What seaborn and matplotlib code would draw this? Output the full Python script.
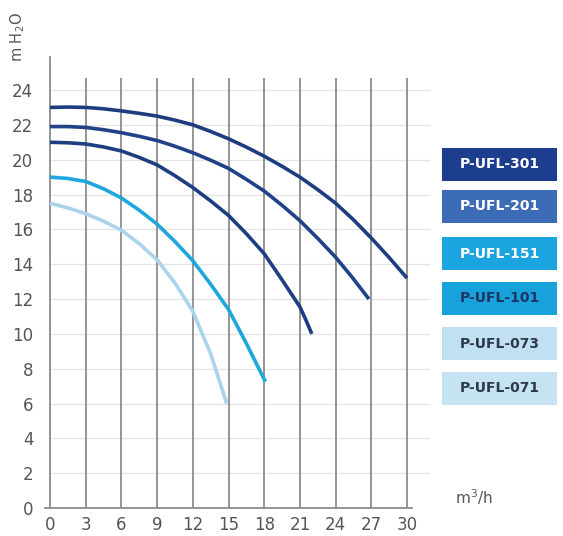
import numpy as np
import pandas as pd
import seaborn as sns
import matplotlib.pyplot as plt
from matplotlib.patches import Rectangle

# pump curves (flow m3/h, head m H2O)
flow_301 = [0, 1.5, 3, 4.5, 6, 7.5, 9, 10.5, 12, 13.5, 15, 16.5, 18, 19.5, 21, 22.5, 24, 25.5, 27, 28.5, 30]
head_301 = [23.0, 23.02, 23.0, 22.92, 22.8, 22.66, 22.5, 22.27, 22.0, 21.62, 21.2, 20.72, 20.2,
            19.62, 19.0, 18.28, 17.5, 16.55, 15.5, 14.38, 13.2]

flow_201 = [0, 1.5, 3, 4.5, 6, 7.5, 9, 10.5, 12, 13.5, 15, 16.5, 18, 19.5, 21, 22.5, 24, 25.4, 26.8]
head_201 = [21.9, 21.9, 21.85, 21.72, 21.55, 21.34, 21.1, 20.77, 20.4, 19.97, 19.5, 18.87, 18.2,
            17.38, 16.5, 15.48, 14.4, 13.24, 12.0]

flow_151 = [0, 1.5, 3, 4.5, 6, 7.5, 9, 10.5, 12, 13.5, 15, 16.5, 18, 19.5, 21, 21.5, 22.0]
head_151 = [21.0, 20.97, 20.9, 20.73, 20.5, 20.13, 19.7, 19.08, 18.4, 17.63, 16.8, 15.75, 14.6,
            13.1, 11.55, 10.8, 10.0]

flow_101 = [0, 1.5, 3, 4.5, 6, 7.5, 9, 10.5, 12, 13.5, 15, 16.5, 18.1]
head_101 = [19.0, 18.92, 18.75, 18.33, 17.8, 17.1, 16.3, 15.3, 14.2, 12.85, 11.4, 9.45, 7.25]

flow_073 = [0, 1.5, 3, 4.5, 6, 7.5, 9, 10.5, 12, 13.5, 14.85]
head_073 = [17.5, 17.23, 16.9, 16.47, 15.95, 15.18, 14.25, 12.92, 11.3, 8.85, 6.0]

curve_names = ["P-UFL-301", "P-UFL-201", "P-UFL-151", "P-UFL-101", "P-UFL-073"]
curve_colors = ["#1e3c80", "#1f4288", "#1d3f82", "#1ea6dd", "#a9d4ec"]

legend_labels = ["P-UFL-301", "P-UFL-201", "P-UFL-151", "P-UFL-101", "P-UFL-073", "P-UFL-071"]
legend_fills = ["#1d3d8f", "#3c6cb6", "#1aa5e0", "#17a2dc", "#c2e0f3", "#c6e3f4"]
legend_text = ["white", "white", "white", "#1d3566", "#2e3a4a", "#2e3a4a"]

x_ticks = [0, 3, 6, 9, 12, 15, 18, 21, 24, 27, 30]
y_ticks = [0, 2, 4, 6, 8, 10, 12, 14, 16, 18, 20, 22, 24]

# long table for seaborn
frames = []
for name, fl, hd in zip(curve_names,
                        [flow_301, flow_201, flow_151, flow_101, flow_073],
                        [head_301, head_201, head_151, head_101, head_073]):
    frames.append(pd.DataFrame({"flow": fl, "head": hd, "model": name}))
df = pd.concat(frames, ignore_index=True)

sns.set_style("white")
plt.rcParams["font.family"] = ["DejaVu Sans"]

fig = plt.figure(figsize=(5.63, 5.36), dpi=100)
W, H = 563, 536

# axes placed so that x=0 -> px 50, x=30 -> px 407, y=0 -> px 508, y=24 -> px 90
x0, x1 = -0.5, 32.0
y0, y1 = -0.5, 26.5
sx = (407 - 50) / 30
sy = (508 - 90) / 24
left = 50 + x0 * sx
right = 50 + x1 * sx
bottom = 508 - y0 * sy
top = 508 - y1 * sy
ax = fig.add_axes([left / W, 1 - bottom / H, (right - left) / W, (bottom - top) / H])
ax.set_xlim(x0, x1)
ax.set_ylim(y0, y1)

# grid
ax.hlines(y_ticks[1:], 0, 31.9, color="#e4e4e4", lw=0.9, zorder=1)
ax.vlines(x_ticks[1:], 0, 24.7, color="#8c8c8c", lw=1.3, zorder=2)

sns.lineplot(data=df, x="flow", y="head", hue="model", palette=curve_colors,
             hue_order=curve_names, lw=2.6, legend=False, ax=ax, zorder=3,
             sort=False)
for l in ax.get_lines():
    l.set_solid_capstyle("butt")
    l.set_solid_joinstyle("round")

for s in ["top", "right"]:
    ax.spines[s].set_visible(False)
ax.spines["left"].set_position(("data", 0))
ax.spines["left"].set_bounds(0, 25.9)
ax.spines["bottom"].set_position(("data", 0))
ax.spines["bottom"].set_bounds(-0.4, 30.4)
for s in ["left", "bottom"]:
    ax.spines[s].set_color("#8c8c8c")
    ax.spines[s].set_linewidth(1.3)

ax.set_xticks(x_ticks)
ax.set_yticks(y_ticks)
ax.tick_params(axis="both", direction="inout", length=4, width=1, color="#8c8c8c",
               labelsize=12, labelcolor="#555555")
ax.tick_params(axis="y", pad=10)
ax.tick_params(axis="x", pad=4)
ax.set_xlabel("")
ax.set_ylabel("")

# axis unit labels
fig.text(18 / W, 1 - 37 / H, "m H$_2$O", rotation=90, ha="center", va="center",
         fontsize=10.5, color="#555555")
fig.text(455 / W, 1 - 497 / H, "m$^3$/h", ha="left", va="center",
         fontsize=11, color="#555555")

# legend boxes on the right
box_tops = [148, 190, 237, 282, 327, 372]
for label, fill, tc, t in zip(legend_labels, legend_fills, legend_text, box_tops):
    fig.patches.append(Rectangle((442 / W, 1 - (t + 33) / H), 115 / W, 33 / H,
                                 transform=fig.transFigure, facecolor=fill,
                                 edgecolor="none"))
    fig.text(499.5 / W, 1 - (t + 16.5) / H, label, ha="center", va="center",
             fontsize=10, fontweight="bold", color=tc)

fig.savefig("out.png", dpi=100)
